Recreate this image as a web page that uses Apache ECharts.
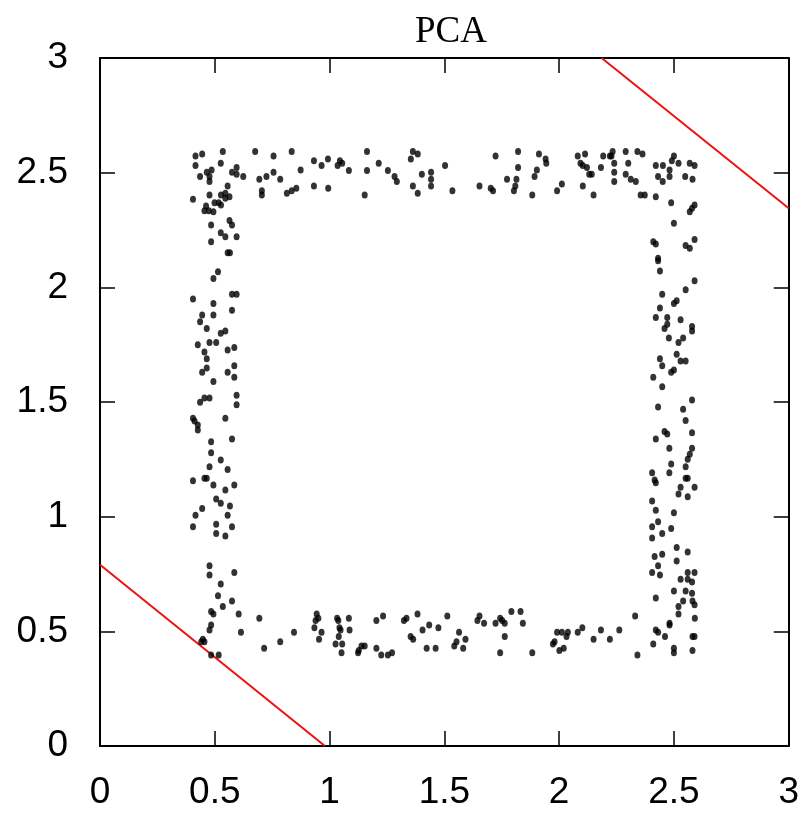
<!DOCTYPE html>
<html>
<head>
<meta charset="utf-8">
<script src="https://cdn.jsdelivr.net/npm/echarts@6/dist/echarts.min.js"></script>
<style>
  html, body { margin: 0; padding: 0; background: #fff; }
  #chart { width: 802px; height: 814px; }
</style>
</head>
<body>
<div id="chart"></div>
<script>
// Axis ticks (both axes run 0..3)
var tickValues = [0, 0.5, 1, 1.5, 2, 2.5, 3];

// Sample points, grouped by the side of the square they lie on
var topRow = [
  [0.416,2.573],[0.445,2.581],[0.535,2.592],[0.676,2.592],[0.756,2.573],[0.835,2.592],[0.932,2.552],
  [0.965,2.531],[0.993,2.560],[1.035,2.531],[1.045,2.552],[1.055,2.541],[1.084,2.509],[1.163,2.592],
  [1.163,2.509],[1.214,2.541],[1.254,2.509],[1.283,2.483],[1.293,2.461],[1.363,2.592],[1.384,2.581],
  [1.354,2.560],[1.402,2.493],[1.442,2.502],[1.442,2.471],[1.442,2.442],[1.503,2.531],[0.416,2.531],
  [0.436,2.483],[0.465,2.502],[0.486,2.512],[0.477,2.483],[0.477,2.461],[0.526,2.541],[0.575,2.502],
  [0.595,2.522],[0.595,2.493],[0.624,2.483],[0.694,2.471],[0.725,2.483],[0.756,2.502],[0.785,2.471],
  [0.874,2.512],[0.556,2.442],[0.477,2.403],[0.527,2.403],[0.546,2.410],[0.564,2.395],[0.705,2.421],
  [0.705,2.403],[0.814,2.410],[0.835,2.421],[0.855,2.432],[0.932,2.442],[0.994,2.432],[1.153,2.403],
  [1.363,2.442],[1.384,2.410],[0.405,2.384],
  [1.535,2.421],[1.653,2.442],[1.702,2.432],[1.712,2.421],[1.723,2.573],[1.773,2.471],[1.803,2.421],
  [1.809,2.442],[1.814,2.471],[1.821,2.592],[1.821,2.522],[1.883,2.403],[1.893,2.483],[1.903,2.512],
  [1.912,2.581],[1.941,2.560],[1.944,2.541],[1.991,2.421],[2.012,2.451],[2.081,2.573],[2.093,2.541],
  [2.103,2.531],[2.113,2.581],[2.121,2.522],[2.131,2.493],[2.142,2.493],[2.103,2.442],[2.150,2.403],
  [2.182,2.522],[2.192,2.573],[2.221,2.573],[2.233,2.592],[2.228,2.573],[2.240,2.541],[2.240,2.502],
  [2.240,2.461],[2.290,2.592],[2.301,2.541],[2.290,2.493],[2.312,2.471],[2.334,2.461],[2.341,2.592],
  [2.363,2.581],[2.355,2.403],[2.373,2.403],[2.421,2.531],[2.421,2.395],[2.431,2.483],[2.452,2.531],
  [2.451,2.461],[2.481,2.512],[2.481,2.483],[2.491,2.552],[2.500,2.573],[2.520,2.541],[2.549,2.483],
  [2.569,2.541],[2.581,2.471],[2.590,2.531]
];

var bottomRow = [
  [0.575,0.632],[0.535,0.608],[0.484,0.586],[0.494,0.576],[0.604,0.576],[0.694,0.557],[0.484,0.528],
  [0.477,0.506],[0.614,0.496],[0.448,0.465],[0.455,0.455],[0.441,0.455],[0.484,0.397],[0.517,0.397],
  [0.715,0.426],[0.785,0.455],[0.845,0.496],[0.944,0.576],[0.951,0.557],[0.939,0.547],[0.934,0.516],
  [0.965,0.496],[0.954,0.465],[1.033,0.557],[1.038,0.547],[1.043,0.516],[1.048,0.506],[1.040,0.477],
  [1.084,0.557],[1.087,0.506],[1.026,0.445],[1.055,0.445],[1.052,0.407],[1.139,0.436],[1.153,0.436],
  [1.127,0.416],[1.124,0.407],[1.204,0.426],[1.225,0.397],[1.254,0.397],[1.272,0.407],[1.204,0.547],
  [1.233,0.567],[1.324,0.547],[1.335,0.557],[1.383,0.576],[1.353,0.477],[1.364,0.465],[1.405,0.506],
  [1.434,0.528],[1.474,0.516],[1.423,0.426],[1.462,0.426],[1.513,0.567],
  [1.564,0.496],[1.592,0.465],[1.553,0.455],[1.543,0.436],[1.582,0.426],[1.644,0.547],[1.653,0.567],
  [1.673,0.535],[1.723,0.535],[1.743,0.557],[1.752,0.547],[1.763,0.535],[1.763,0.477],[1.743,0.407],
  [1.792,0.586],[1.832,0.586],[1.842,0.535],[1.883,0.407],[1.991,0.496],[2.012,0.496],[2.038,0.496],
  [2.032,0.477],[1.980,0.455],[1.973,0.445],[2.020,0.426],[2.001,0.416],[2.081,0.496],[2.101,0.516],
  [2.150,0.465],[2.182,0.506],[2.221,0.465],[2.262,0.506],[2.331,0.567],[2.341,0.397],[2.421,0.506],
  [2.431,0.496],[2.410,0.445],[2.461,0.477],[2.481,0.535],[2.481,0.528],[2.500,0.426],[2.500,0.407],
  [2.520,0.608],[2.520,0.576],[2.540,0.632],[2.581,0.632],[2.590,0.616],[2.591,0.557],[2.581,0.477],
  [2.590,0.477],[2.581,0.416]
];

var leftColumn = [
  [0.546,2.388],[0.499,2.369],[0.517,2.369],[0.527,2.359],[0.462,2.355],[0.455,2.334],[0.474,2.334],
  [0.494,2.330],[0.484,2.272],[0.564,2.291],[0.575,2.272],[0.526,2.238],[0.546,2.221],[0.595,2.221],
  [0.484,2.199],[0.556,2.151],[0.566,2.151],[0.514,2.068],[0.494,2.039],[0.405,1.949],[0.575,1.970],
  [0.595,1.970],[0.494,1.929],[0.575,1.900],[0.445,1.879],[0.494,1.879],[0.436,1.850],[0.465,1.820],
  [0.526,1.800],[0.546,1.810],[0.426,1.750],[0.477,1.759],[0.506,1.759],[0.455,1.718],[0.556,1.727],
  [0.585,1.738],[0.465,1.689],[0.585,1.658],[0.465,1.648],[0.445,1.630],[0.556,1.630],[0.585,1.608],
  [0.494,1.589],[0.595,1.529],[0.455,1.517],[0.477,1.517],[0.436,1.499],[0.595,1.488],[0.405,1.429],
  [0.546,1.429],[0.412,1.417],[0.426,1.400],
  [0.426,1.378],[0.484,1.327],[0.575,1.339],[0.484,1.279],[0.526,1.247],[0.477,1.218],[0.556,1.206],
  [0.405,1.157],[0.455,1.167],[0.465,1.167],[0.494,1.138],[0.546,1.116],[0.585,1.138],[0.506,1.077],
  [0.526,1.058],[0.566,1.047],[0.445,1.036],[0.416,1.006],[0.556,1.006],[0.405,0.956],[0.506,0.967],
  [0.575,0.956],[0.506,0.927],[0.546,0.916],[0.477,0.786],[0.477,0.746],[0.585,0.756],[0.526,0.706],
  [0.514,0.655]
];

var rightColumn = [
  [2.488,2.369],[2.590,2.359],[2.579,2.345],[2.569,2.330],[2.500,2.279],[2.410,2.199],[2.421,2.189],
  [2.551,2.182],[2.569,2.170],[2.590,2.209],[2.431,2.127],[2.431,2.116],[2.439,2.071],[2.590,2.029],
  [2.551,1.990],[2.449,1.970],[2.512,1.942],[2.500,1.930],[2.439,1.910],[2.421,1.869],[2.471,1.869],
  [2.529,1.859],[2.471,1.839],[2.459,1.820],[2.579,1.829],[2.579,1.810],[2.478,1.779],[2.540,1.779],
  [2.520,1.759],[2.512,1.708],[2.439,1.689],[2.529,1.679],[2.551,1.679],[2.449,1.658],[2.500,1.640],
  [2.488,1.630],[2.410,1.608],[2.449,1.567],[2.579,1.509],[2.431,1.478],[2.540,1.468],[2.551,1.419],
  [2.459,1.371],[2.471,1.360],[2.579,1.366],[2.421,1.339],[2.480,1.298],[2.579,1.298],[2.569,1.272],
  [2.560,1.250],[2.488,1.230],[2.551,1.218],[2.405,1.192],[2.480,1.192],[2.551,1.167],[2.560,1.167],
  [2.416,1.160],[2.421,1.148],[2.529,1.128],[2.590,1.128],[2.520,1.099],[2.560,1.087],[2.405,1.068],
  [2.421,1.028],[2.500,1.017],[2.405,0.956],[2.431,0.978],[2.488,0.948],[2.449,0.927],[2.405,0.907],
  [2.512,0.866],[2.560,0.846],[2.416,0.826],[2.449,0.836],[2.512,0.807],[2.431,0.786],[2.405,0.756],
  [2.439,0.746],[2.560,0.756],[2.590,0.756],[2.529,0.727],[2.560,0.727],[2.579,0.715],[2.421,0.645],
  [2.500,0.676],[2.551,0.676],[2.579,0.666]
];

// Two parallel component lines (endpoints on the frame)
var lowerLine = [[0, 0.79], [0.98, 0]];
var upperLine = [[2.185, 3], [3, 2.345]];

var points = topRow.concat(bottomRow, leftColumn, rightColumn);

var labelFont = 'Liberation Sans, Arial, Helvetica, sans-serif';

function frameAxis(pos, showLabels, isX) {
  return {
    type: 'value',
    position: pos,
    min: tickValues[0],
    max: tickValues[tickValues.length - 1],
    interval: 0.5,
    axisLine: { show: true, onZero: false, lineStyle: { color: '#000', width: 2 } },
    axisTick: { show: true, inside: true, length: 15, lineStyle: { color: '#000', width: 1.5 } },
    splitLine: { show: false },
    axisLabel: showLabels ? (isX ? {
      color: '#000', fontSize: 37, fontFamily: labelFont, margin: 28
    } : {
      color: '#000', fontSize: 37, fontFamily: labelFont, margin: 32, padding: [7, 0, 0, 0]
    }) : { show: false }
  };
}

var chart = echarts.init(document.getElementById('chart'), null, { renderer: 'canvas' });
chart.setOption({
  animation: false,
  backgroundColor: '#fff',
  title: {
    text: 'PCA',
    left: 446,
    textAlign: 'center',
    top: 9,
    textStyle: { fontFamily: 'Liberation Serif, Times New Roman, serif', fontWeight: 'normal', fontSize: 37, color: '#000' }
  },
  grid: { left: 100, right: 10, top: 58, bottom: 68, containLabel: false },
  xAxis: [frameAxis('bottom', true, true), frameAxis('top', false, true)],
  yAxis: [frameAxis('left', true, false), frameAxis('right', false, false)],
  series: [
    {
      type: 'line', data: lowerLine, showSymbol: false, symbol: 'none',
      lineStyle: { color: '#ee1111', width: 2 }, z: 3
    },
    {
      type: 'line', data: upperLine, showSymbol: false, symbol: 'none',
      lineStyle: { color: '#ee1111', width: 2 }, z: 3
    },
    {
      type: 'scatter', data: points, symbol: 'circle', symbolSize: [6, 7],
      itemStyle: { color: '#000' }, z: 4
    }
  ]
});
</script>
</body>
</html>
